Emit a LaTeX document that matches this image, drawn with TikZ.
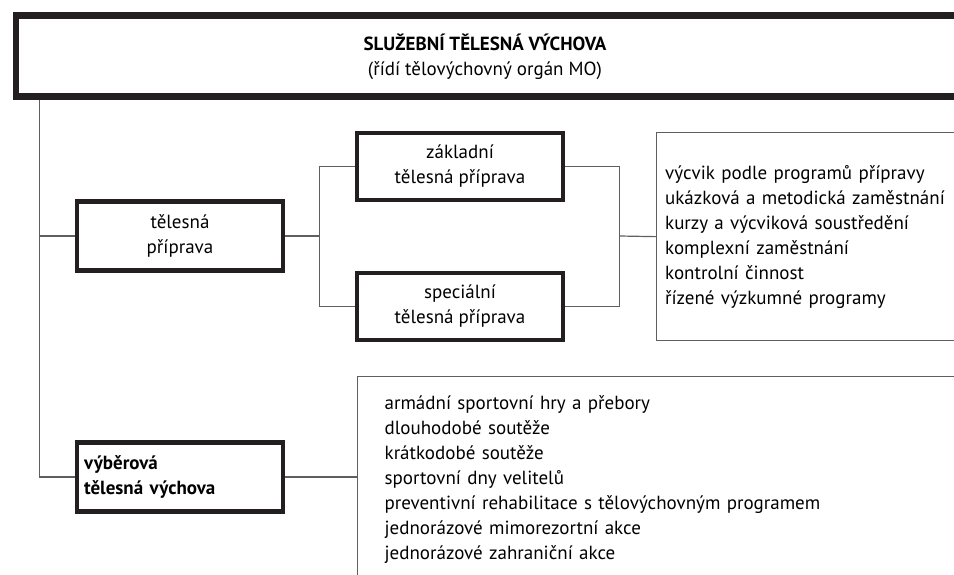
\documentclass[tikz,border=0pt]{standalone}
\usepackage{fontspec}
\setmainfont{PT Sans}
\usetikzlibrary{positioning}

\definecolor{inkblack}{RGB}{35,31,32}
\definecolor{linegray}{RGB}{95,95,95}

\tikzset{
  headbox/.style={draw=inkblack, line width=6.5pt, minimum width=1200pt, minimum height=81.4pt, inner sep=0pt},
  stagebox/.style={draw=inkblack, line width=4.3pt, minimum width=206pt, minimum height=69pt, inner sep=0pt, align=center},
  listbox/.style={draw=linegray, line width=1.3pt, anchor=north west, align=left},
  link/.style={draw=linegray, line width=1.2pt},
}

\begin{document}
\begin{tikzpicture}[x=1pt, y=-1pt, font=\fontsize{19}{25}\selectfont]
\useasboundingbox (0,0) rectangle (954,575);
\clip (0,0) rectangle (954,575);

% --- HEADER ---
\node[headbox, anchor=west] (head) at (12.7,56) {};
\node[align=center] (headtext) at (485,56.5)
  {\textbf{SLUŽEBNÍ TĚLESNÁ VÝCHOVA}\\(řídí tělovýchovný orgán MO)};

% --- STAGES ---
\node[stagebox] (telesna) at (180,236) {tělesná\\příprava};
\node[stagebox, minimum height=67pt] (zaklad) at (460,166.5) {základní\\tělesná příprava};
\node[stagebox, minimum height=67pt] (special) at (460,306.5) {speciální\\tělesná příprava};
\node[stagebox, align=left, text width=192pt, font=\fontsize{19}{25}\selectfont\bfseries] (vyber) at (180,477)
  {výběrová\\tělesná výchova};

% --- LISTS ---
\node[listbox, minimum width=400pt, minimum height=208pt, inner xsep=8.5pt, text width=383pt] (listA) at (656,132)
  {výcvik podle programů přípravy\\
   ukázková a metodická zaměstnání\\
   kurzy a výcviková soustředění\\
   komplexní zaměstnání\\
   kontrolní činnost\\
   řízené výzkumné programy};
\node[listbox, minimum width=700pt, minimum height=205pt, inner xsep=27pt, text width=646pt] (listB) at (357,376)
  {armádní sportovní hry a přebory\\
   dlouhodobé soutěže\\
   krátkodobé soutěže\\
   sportovní dny velitelů\\
   preventivní rehabilitace s tělovýchovným programem\\
   jednorázové mimorezortní akce\\
   jednorázové zahraniční akce};

% --- CONNECTORS ---
\coordinate (trunk) at (39.3,100);
\coordinate (forkL) at (319.3,236);
\coordinate (forkR) at (619.3,236);
\draw[link] (head.south -| trunk) |- (vyber.west);
\draw[link] (trunk |- telesna.west) -- (telesna.west);
\draw[link] (telesna.east) -- (forkL);
\draw[link] (zaklad.west) -| (forkL) |- (special.west);
\draw[link] (zaklad.east) -| (forkR) |- (special.east);
\draw[link] (forkR) -- (listA.west);
\draw[link] (vyber.east) -- (vyber.east -| listB.west);

\end{tikzpicture}
\end{document}
